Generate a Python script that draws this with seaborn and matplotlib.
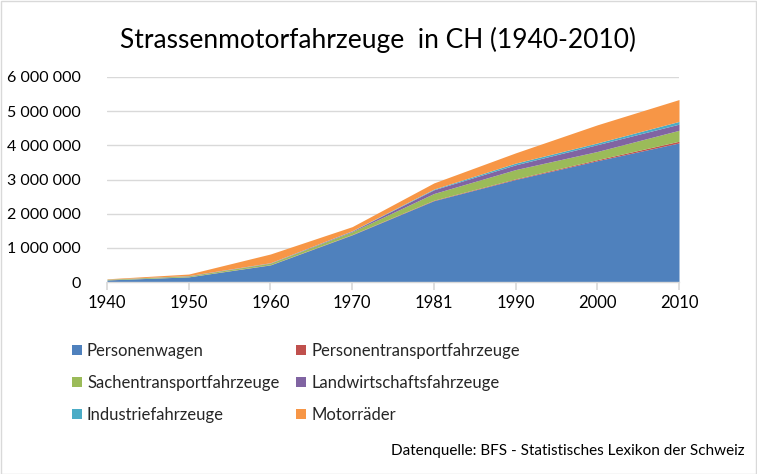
import matplotlib
matplotlib.use("Agg")
import matplotlib.pyplot as plt
from matplotlib.ticker import FuncFormatter, FixedLocator
from matplotlib.patches import Rectangle
import seaborn as sns
import pandas as pd

years = ["1940", "1950", "1960", "1970", "1981", "1990", "2000", "2010"]
personenwagen = [60000, 150000, 500000, 1380000, 2380000, 3000000, 3550000, 4070000]
personentransport = [2000, 3000, 6000, 10000, 15000, 20000, 30000, 50000]
sachentransport = [18000, 25000, 45000, 80000, 195000, 270000, 240000, 320000]
landwirtschaft = [2000, 8000, 10000, 20000, 110000, 140000, 200000, 180000]
industrie = [1000, 2000, 4000, 10000, 20000, 50000, 50000, 80000]
motorraeder = [10000, 45000, 255000, 120000, 180000, 300000, 530000, 640000]
series_names = ["Personenwagen", "Personentransportfahrzeuge", "Sachentransportfahrzeuge",
                "Landwirtschaftsfahrzeuge", "Industriefahrzeuge", "Motorräder"]
colors = ["#4F81BD", "#C0504D", "#9BBB59", "#8064A2", "#4BACC6", "#F79646"]

df = pd.DataFrame({
    "Jahr": years,
    series_names[0]: personenwagen,
    series_names[1]: personentransport,
    series_names[2]: sachentransport,
    series_names[3]: landwirtschaft,
    series_names[4]: industrie,
    series_names[5]: motorraeder,
})

sns.set_theme(style="white")
plt.rcParams["font.family"] = ["Lato", "DejaVu Sans"]

fig = plt.figure(figsize=(7.57, 4.74), dpi=100)
ax = fig.add_axes([107 / 757, 1 - 282 / 474, (679 - 107) / 757, (282 - 77) / 474])

x = list(range(len(df)))
polys = ax.stackplot(x, *[df[n].values for n in series_names], colors=colors,
                     labels=series_names, linewidth=0)

ax.set_xlim(0, len(df) - 1)
ax.set_ylim(0, 6000000)
ax.xaxis.set_major_locator(FixedLocator(x))
ax.set_xticklabels(df["Jahr"])
ax.yaxis.set_major_locator(FixedLocator(range(0, 6000001, 1000000)))
ax.yaxis.set_major_formatter(FuncFormatter(lambda v, p: f"{int(v):,}".replace(",", " ")))
ax.grid(axis="y", color="#D9D9D9", linewidth=1)
ax.set_axisbelow(True)
for s in ["top", "right", "left"]:
    ax.spines[s].set_visible(False)
ax.spines["bottom"].set_color("#D9D9D9")
ax.spines["bottom"].set_linewidth(1)
ax.tick_params(axis="x", bottom=True, length=6, color="#D9D9D9", labelsize=12, pad=3,
               labelcolor="#000000")
ax.tick_params(axis="y", left=False, labelsize=11.5, pad=13, labelcolor="#000000")

fig.text(0.5, 1 - 40 / 474, "Strassenmotorfahrzeuge  in CH (1940-2010)", ha="center",
         va="center", fontsize=19, color="#000000")

order = [0, 2, 4, 1, 3, 5]
handles, labels = ax.get_legend_handles_labels()
leg = fig.legend([handles[i] for i in order], [labels[i] for i in order], ncol=2,
                 loc="upper left", bbox_to_anchor=(72 / 757, 1 - 343 / 474),
                 frameon=False, fontsize=12, handlelength=0.6, handleheight=0.6,
                 handletextpad=0.3, columnspacing=1.0, labelspacing=0.95,
                 borderaxespad=0, borderpad=0)

fig.text(745 / 757, 1 - 451 / 474, "Datenquelle: BFS - Statistisches Lexikon der Schweiz",
         ha="right", va="center", fontsize=11, color="#000000")

fig.patches.append(Rectangle((0.5 / 757, 0.5 / 474), 1 - 1.5 / 757, 1 - 1.5 / 474,
                             transform=fig.transFigure, fill=False,
                             edgecolor="#D9D9D9", linewidth=1))

fig.savefig("out.png", dpi=100)
